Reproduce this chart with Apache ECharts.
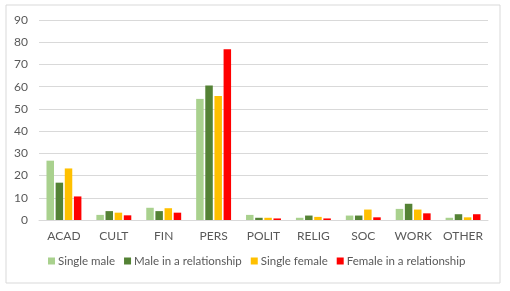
<!DOCTYPE html>
<html>
<head>
<meta charset="utf-8">
<script src="https://cdn.jsdelivr.net/npm/echarts@6/dist/echarts.min.js"></script>
<style>
  html, body { margin: 0; padding: 0; background: #fff; }
  #chart { width: 510px; height: 291px; }
</style>
</head>
<body>
<div id="chart"></div>
<script>
// categories and values
var categories = ["ACAD", "CULT", "FIN", "PERS", "POLIT", "RELIG", "SOC", "WORK", "OTHER"];
var singleMale = [26.7, 2.3, 5.5, 54.5, 2.3, 1.0, 2.0, 5.0, 1.0];
var maleRelationship = [16.8, 4.0, 4.0, 60.5, 1.0, 2.0, 2.0, 7.3, 2.6];
var singleFemale = [23.2, 3.3, 5.3, 55.8, 1.0, 1.4, 4.7, 4.7, 1.2];
var femaleRelationship = [10.6, 2.1, 3.3, 76.8, 0.7, 0.7, 1.2, 3.0, 2.6];
var seriesNames = ["Single male", "Male in a relationship", "Single female", "Female in a relationship"];
var yTicks = [0, 90, 10];

var chart = echarts.init(document.getElementById("chart"));
var font = "Lato, 'Liberation Sans', sans-serif";

function bar(name, data, color) {
  return {
    name: name,
    type: "bar",
    data: data,
    barGap: "22%",
    barCategoryGap: "30%",
    itemStyle: { color: color },
    animation: false
  };
}

chart.setOption({
  graphic: [{
    type: "rect",
    shape: { x: 6, y: 5, width: 494, height: 278 },
    style: { fill: "none", stroke: "#d9d9d9", lineWidth: 1 },
    silent: true
  }],
  grid: { left: 39, right: 22, top: 20, bottom: 71 },
  legend: {
    data: seriesNames,
    bottom: 19,
    left: 43,
    itemWidth: 7,
    itemHeight: 7,
    itemGap: 9,
    icon: "rect",
    textStyle: { color: "#595959", fontSize: 11.5, fontFamily: font, padding: [0, 0, 0, -2] }
  },
  xAxis: {
    type: "category",
    data: categories,
    axisTick: { show: false },
    axisLine: { lineStyle: { color: "#d9d9d9" } },
    axisLabel: { color: "#595959", fontSize: 12, fontFamily: font, margin: 10, interval: 0 }
  },
  yAxis: {
    type: "value",
    min: yTicks[0],
    max: yTicks[1],
    interval: yTicks[2],
    axisLine: { show: false },
    axisTick: { show: false },
    splitLine: { lineStyle: { color: "#d9d9d9" } },
    axisLabel: { color: "#595959", fontSize: 12, fontFamily: font, margin: 11 }
  },
  series: [
    bar(seriesNames[0], singleMale, "#a9d18e"),
    bar(seriesNames[1], maleRelationship, "#548235"),
    bar(seriesNames[2], singleFemale, "#ffc000"),
    bar(seriesNames[3], femaleRelationship, "#ff0000")
  ]
});
</script>
</body>
</html>
